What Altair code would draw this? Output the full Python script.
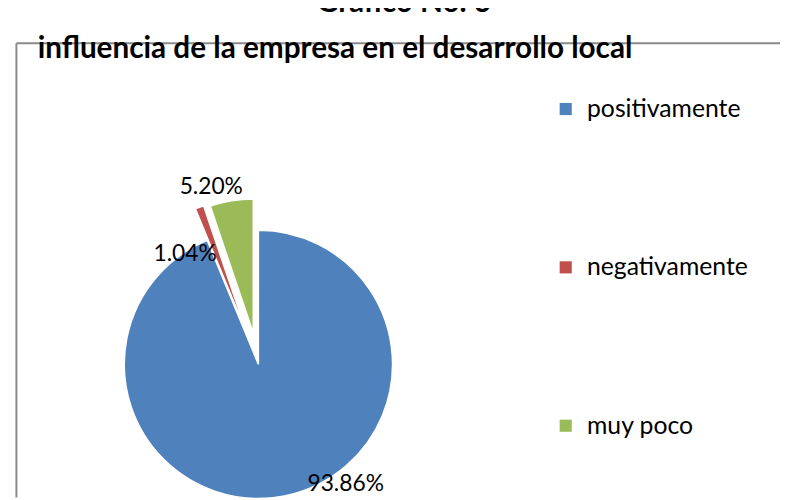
import math
import altair as alt
import pandas as pd

# ---- data ----
categories = ["positivamente", "negativamente", "muy poco"]
values = [93.86, 1.04, 5.20]
value_labels = ["93.86%", "1.04%", "5.20%"]

title_top = "Grafico No. 6"
title_main = "influencia de la empresa en el desarrollo local"

# ---- styles / layout ----
colors = ["#4F81BD", "#C0504D", "#9BBB59"]
CX, CY, R = 253, 357.5, 135.5          # pie centre and radius (px)
explode = {"positivamente": 0, "negativamente": 34, "muy poco": 32}
# label placement relative to each slice centre: (angle deg clockwise from top, radius px)
label_polar = {"positivamente": (144, 150), "negativamente": (322, 101), "muy poco": (344, 154)}
FONT = "Lato"
W, H = 780, 492

# ---- derived table ----
total = sum(values)
rows = []
acc = 0.0
for cat, v, lab in zip(categories, values, value_labels):
    start, end = acc, acc + v
    acc = end
    mid = (start + end) / 2 / total * 2 * math.pi
    e = explode[cat]
    cx = CX + e * math.sin(mid)
    cy = CY - e * math.cos(mid)
    la, lr = label_polar[cat]
    lx = cx + lr * math.sin(math.radians(la))
    ly = cy - lr * math.cos(math.radians(la))
    rows.append(dict(category=cat, value=v, label=lab, start=start, end=end,
                     cx=cx, cy=cy, lx=lx, ly=ly))
df = pd.DataFrame(rows)

base = alt.Chart(df)

arcs = base.mark_arc(outerRadius=R, stroke="white", strokeWidth=1.5).encode(
    theta=alt.Theta("start:Q", scale=alt.Scale(domain=[0, total], range=[0, 2 * math.pi])),
    theta2="end:Q",
    x=alt.X("cx:Q", scale=None, axis=None),
    y=alt.Y("cy:Q", scale=None, axis=None),
    color=alt.Color(
        "category:N",
        scale=alt.Scale(domain=categories, range=colors),
        sort=categories,
        legend=alt.Legend(
            title=None,
            orient="none",
            legendX=551,
            legendY=87,
            symbolType="square",
            symbolSize=150,
            symbolStrokeWidth=0,
            labelFontSize=25,
            labelFont=FONT,
            labelColor="#000000",
            labelOffset=9,
            labelLimit=400,
            rowPadding=134,
        ),
    ),
)

labels = base.mark_text(font=FONT, fontSize=23, color="#000000", baseline="middle", align="center").encode(
    x=alt.X("lx:Q", scale=None, axis=None),
    y=alt.Y("ly:Q", scale=None, axis=None),
    text="label:N",
)

one = alt.Chart(pd.DataFrame({"t": [title_top]}))
t_top = one.mark_text(font=FONT, fontSize=30, fontWeight="bold", align="center", baseline="alphabetic").encode(
    x=alt.value(400), y=alt.value(1), text=alt.value(title_top)
)
t_main = one.mark_text(font=FONT, fontSize=30, fontWeight="bold", align="left", baseline="alphabetic").encode(
    x=alt.value(30), y=alt.value(48), text=alt.value(title_main)
)
frame_top = one.mark_rule(stroke="#8a8a8a", strokeWidth=2).encode(
    x=alt.value(8.5), x2=alt.value(W), y=alt.value(33)
)
frame_left = one.mark_rule(stroke="#8a8a8a", strokeWidth=2).encode(
    x=alt.value(8.5), y=alt.value(33), y2=alt.value(H)
)

chart = alt.layer(frame_top, frame_left, arcs, labels, t_top, t_main).properties(
    width=W, height=H, padding=0, autosize=alt.AutoSizeParams(type="none")
).configure(background="white").configure_view(stroke=None)

chart.save("out.html", embed_options={"renderer": "svg", "actions": False})
